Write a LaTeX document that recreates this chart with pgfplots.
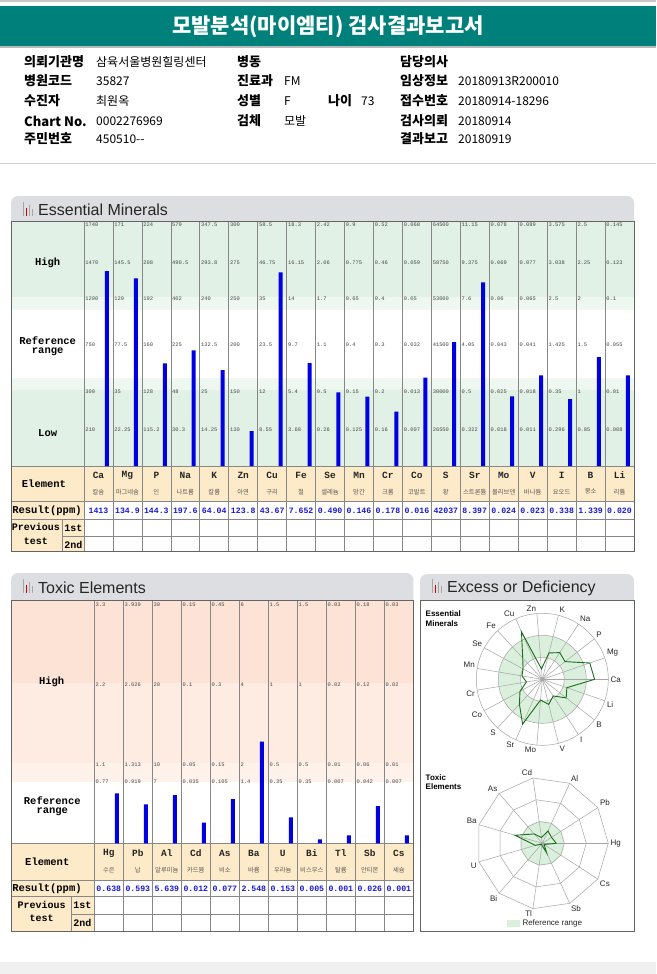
\documentclass[border=0pt]{standalone}
\usepackage{fontspec}
\usepackage{pgfplots}
\usepackage{pgfplotstable}
\pgfplotsset{compat=1.18}
\setmainfont{Liberation Sans}
\newfontfamily\kr{Noto Sans CJK KR}
\newfontfamily\mono{Liberation Mono}
\definecolor{teal1}{RGB}{0,128,122}
\definecolor{tabgray}{RGB}{221,222,225}
\definecolor{grn1}{RGB}{226,241,229}
\definecolor{grn2}{RGB}{238,247,240}
\definecolor{pch1}{RGB}{253,227,214}
\definecolor{pch2}{RGB}{254,235,225}
\definecolor{pch3}{RGB}{254,242,235}
\definecolor{cream}{RGB}{253,234,200}
\definecolor{barblue}{RGB}{0,0,225}
\definecolor{resblue}{RGB}{25,25,215}
\definecolor{lgray}{RGB}{135,135,135}
\definecolor{fgray}{RGB}{100,100,100}
\definecolor{radfill}{RGB}{218,240,220}
\definecolor{radline}{RGB}{25,110,25}
\definecolor{scl}{RGB}{70,70,70}
\definecolor{ringgray}{RGB}{165,165,165}
\newcommand\hl{\kr\bfseries\fontsize{13}{15}\selectfont}
\newcommand\hv{\kr\fontsize{12}{14}\selectfont}
\newcommand\lab{\mono\bfseries\fontsize{10.5}{12}\selectfont}
\newcommand\sclf{\mono\fontsize{5.4}{6}\selectfont}
\newcommand\tabf{\fontsize{16}{18}\selectfont}

\pgfplotstableread{
x h
0.79 195
1.79 187.7
2.79 102.7
3.79 115.7
4.79 96
5.79 35
6.79 193.7
7.79 103
8.79 73.7
9.79 69.3
10.79 54.3
11.79 88.3
12.79 124
13.79 183.7
14.79 69.7
15.79 90.7
16.79 67
17.79 109
18.79 90.7
}\essbars

\pgfplotstableread{
x h
0.78 50
1.78 39
2.78 48.3
3.78 20.6
4.78 44.3
5.78 101.6
6.78 26
7.78 4
8.78 8
9.78 37.3
10.78 8
}\toxbars

\begin{document}
\begin{tikzpicture}[x=1pt,y=-1pt]
\fill[white] (0,0) rectangle (656,974);
% ---------- header
\fill[gray!45] (0,0) rectangle (656,2);
\fill[teal1] (0,6) rectangle (656,46);
\fill[gray!55] (0,46) rectangle (656,48);
\node[text=white, font=\kr\bfseries\fontsize{21}{24}\selectfont] at (328,26.5) {모발분석(마이엠티) 검사결과보고서};
\begin{scope}[every node/.style={anchor=west, inner sep=0pt}]
\node[font=\hl] at (24,62) {의뢰기관명};
\node[font=\hv] at (96,62) {삼육서울병원힐링센터};
\node[font=\hl] at (237,62) {병동};
\node[font=\hl] at (400,62) {담당의사};
\node[font=\hl] at (24,81) {병원코드};
\node[font=\hv] at (96,81) {35827};
\node[font=\hl] at (237,81) {진료과};
\node[font=\hv] at (284,81) {FM};
\node[font=\hl] at (400,81) {임상정보};
\node[font=\hv] at (458,81) {20180913R200010};
\node[font=\hl] at (24,101) {수진자};
\node[font=\hv] at (96,101) {최원옥};
\node[font=\hl] at (237,101) {성별};
\node[font=\hv] at (284,101) {F};
\node[font=\hl] at (328,101) {나이};
\node[font=\hv] at (361,101) {73};
\node[font=\hl] at (400,101) {접수번호};
\node[font=\hv] at (458,101) {20180914-18296};
\node[font=\hl] at (24,121) {Chart No.};
\node[font=\hv] at (96,121) {0002276969};
\node[font=\hl] at (237,121) {검체};
\node[font=\hv] at (284,121) {모발};
\node[font=\hl] at (400,121) {검사의뢰};
\node[font=\hv] at (458,121) {20180914};
\node[font=\hl] at (24,139) {주민번호};
\node[font=\hv] at (96,139) {450510--};
\node[font=\hl] at (400,139) {결과보고};
\node[font=\hv] at (458,139) {20180919};
\end{scope}
\draw[gray!35, line width=1pt] (0,163) -- (656,163);
\fill[gray!12] (0,962) rectangle (656,974);

% ---------- Essential Minerals section
\fill[tabgray, rounded corners=7pt] (11,196) rectangle (634,232);
\fill[gray!70] (22.5,202) rectangle (24,216);
\fill[red!80!black] (25.5,208) rectangle (27,216);
\fill[gray!70] (28.5,205) rectangle (30,216);
\fill[gray!70] (31.5,209) rectangle (33,216);
\node[anchor=west, inner sep=0pt, font=\tabf, text=black!85] at (38,210) {Essential Minerals};
\fill[grn1] (11.5,221) rectangle (634,297.3);
\fill[grn2] (11.5,297.3) rectangle (634,310);
\fill[white] (11.5,310) rectangle (634,378.3);
\fill[grn2] (11.5,378.3) rectangle (634,390);
\fill[grn1] (11.5,390) rectangle (634,466);
\fill[cream] (11.5,466) rectangle (634,501);
\fill[cream] (11.5,501) rectangle (84,551.7);
\foreach \i in {1,...,18} {
  \pgfmathsetmacro\lx{84+\i*28.947}
  \draw[lgray, line width=0.6pt] (\lx,221) -- (\lx,551.7);
}
\draw[lgray, line width=0.6pt] (84,221) -- (84,551.7);
\draw[lgray, line width=0.6pt] (11.5,466) -- (634,466);
\draw[lgray, line width=0.6pt] (11.5,501) -- (634,501);
\draw[lgray, line width=0.6pt] (11.5,519.3) -- (634,519.3);
\draw[lgray, line width=0.6pt] (62.7,536) -- (634,536);
\draw[lgray, line width=0.6pt] (62.7,519.3) -- (62.7,551.7);
\draw[fgray, line width=0.8pt] (11.5,221) rectangle (634,551.7);
\begin{scope}[every node/.style={inner sep=0pt}]
\node[font=\lab] at (47.7,263) {High};
\node[font=\lab] at (47.7,340.3) {Reference};
\node[font=\lab] at (47.7,351.8) {range};
\node[font=\lab] at (47.7,432.7) {Low};
\node[font=\lab] at (44,484) {Element};
\node[font=\lab] at (47,510.3) {Result(ppm)};
\node[font=\mono\bfseries\fontsize{10}{12}\selectfont] at (36,527) {Previous};
\node[font=\mono\bfseries\fontsize{10}{12}\selectfont] at (36,541) {test};
\node[font=\mono\bfseries\fontsize{10}{12}\selectfont] at (73.3,528) {1st};
\node[font=\mono\bfseries\fontsize{10}{12}\selectfont] at (73.3,544.5) {2nd};
\end{scope}
\foreach \a/\b/\c/\d/\e/\f [count=\i from 0] in {1740/1470/1200/750/300/210, 171/145.5/120/77.5/35/22.25, 224/208/192/160/128/115.2, 579/490.5/402/225/48/30.3, 347.5/293.8/240/132.5/25/14.25, 300/275/250/200/150/130, 58.5/46.75/35/23.5/12/8.55, 18.3/16.15/14/9.7/5.4/3.68, 2.42/2.06/1.7/1.1/0.5/0.26, 0.9/0.775/0.65/0.4/0.15/0.125, 0.52/0.46/0.4/0.3/0.2/0.16, 0.068/0.059/0.05/0.032/0.013/0.007, 64500/58750/53000/41500/30000/26550, 11.15/9.375/7.6/4.05/0.5/0.322, 0.078/0.069/0.06/0.043/0.025/0.018, 0.089/0.077/0.065/0.041/0.018/0.011, 3.575/3.038/2.5/1.425/0.35/0.296, 2.5/2.25/2/1.5/1/0.85, 0.145/0.123/0.1/0.055/0.01/0.008} {
  \pgfmathsetmacro\lx{84+\i*28.947+1.2}
  \begin{scope}[every node/.style={anchor=west, inner sep=0pt, font=\sclf, text=scl}]
  \node at (\lx,225) {\a};
  \node at (\lx,263) {\b};
  \node at (\lx,299) {\c};
  \node at (\lx,345) {\d};
  \node at (\lx,392) {\e};
  \node at (\lx,430) {\f};
  \end{scope}
}
\foreach \s/\k/\v [count=\i from 0] in {Ca/칼슘/1413, Mg/마그네슘/134.9, P/인/144.3, Na/나트륨/197.6, K/칼륨/64.04, Zn/아연/123.8, Cu/구리/43.67, Fe/철/7.652, Se/셀레늄/0.490, Mn/망간/0.146, Cr/크롬/0.178, Co/코발트/0.016, S/황/42037, Sr/스트론튬/8.397, Mo/몰리브덴/0.024, V/바나듐/0.023, I/요오드/0.338, B/붕소/1.339, Li/리튬/0.020} {
  \pgfmathsetmacro\cx{84+(\i+0.5)*28.947}
  \node[font=\mono\bfseries\fontsize{9.5}{11}\selectfont, text=black!85] at (\cx,475.5) {\s};
  \node[font=\kr\fontsize{6.3}{7}\selectfont, text=black!65] at (\cx,491.7) {\k};
  \node[font=\mono\bfseries\fontsize{8.2}{9}\selectfont, text=resblue] at (\cx,510.3) {\v};
}
\begin{axis}[at={(84pt,-466pt)}, anchor=south west, scale only axis,
  width=550pt, height=245pt, xmin=0, xmax=19, ymin=0, ymax=245,
  hide axis, clip=false]
\addplot[ybar, bar width=4pt, bar shift=0pt, fill=barblue, draw=none] table[x=x,y=h] {\essbars};
\end{axis}

% ---------- Toxic Elements section
\fill[tabgray, rounded corners=7pt] (11,573) rectangle (413.3,610);
\fill[gray!70] (22.5,579) rectangle (24,593);
\fill[red!80!black] (25.5,585) rectangle (27,593);
\fill[gray!70] (28.5,582) rectangle (30,593);
\fill[gray!70] (31.5,586) rectangle (33,593);
\node[anchor=west, inner sep=0pt, font=\tabf, text=black!85] at (38,588) {Toxic Elements};
\fill[pch1] (11.5,600) rectangle (413.3,683.3);
\fill[pch2] (11.5,683.3) rectangle (413.3,763.3);
\fill[pch3] (11.5,763.3) rectangle (413.3,781.7);
\fill[white] (11.5,781.7) rectangle (413.3,843.3);
\fill[cream] (11.5,843.3) rectangle (413.3,880);
\fill[cream] (11.5,880) rectangle (94.3,931.7);
\foreach \i in {1,...,10} {
  \pgfmathsetmacro\lx{94.3+\i*29}
  \draw[lgray, line width=0.6pt] (\lx,600) -- (\lx,931.7);
}
\draw[lgray, line width=0.6pt] (94.3,600) -- (94.3,931.7);
\draw[lgray, line width=0.6pt] (11.5,843.3) -- (413.3,843.3);
\draw[lgray, line width=0.6pt] (11.5,880) -- (413.3,880);
\draw[lgray, line width=0.6pt] (11.5,896.7) -- (413.3,896.7);
\draw[lgray, line width=0.6pt] (71.7,914) -- (413.3,914);
\draw[lgray, line width=0.6pt] (71.7,896.7) -- (71.7,931.7);
\draw[fgray, line width=0.8pt] (11.5,600) rectangle (413.3,931.7);
\begin{scope}[every node/.style={inner sep=0pt}]
\node[font=\lab] at (51.7,682.3) {High};
\node[font=\lab] at (52.3,800.5) {Reference};
\node[font=\lab] at (52.3,812) {range};
\node[font=\lab] at (47.3,861.7) {Element};
\node[font=\lab] at (47,888.3) {Result(ppm)};
\node[font=\mono\bfseries\fontsize{10}{12}\selectfont] at (41.7,905) {Previous};
\node[font=\mono\bfseries\fontsize{10}{12}\selectfont] at (41.7,918.5) {test};
\node[font=\mono\bfseries\fontsize{10}{12}\selectfont] at (82.5,905.5) {1st};
\node[font=\mono\bfseries\fontsize{10}{12}\selectfont] at (82.5,923) {2nd};
\end{scope}
\foreach \a/\b/\c/\d [count=\i from 0] in {3.3/2.2/1.1/0.77, 3.939/2.626/1.313/0.919, 30/20/10/7, 0.15/0.1/0.05/0.035, 0.45/0.3/0.15/0.105, 6/4/2/1.4, 1.5/1/0.5/0.35, 1.5/1/0.5/0.35, 0.03/0.02/0.01/0.007, 0.18/0.12/0.06/0.042, 0.03/0.02/0.01/0.007} {
  \pgfmathsetmacro\lx{94.3+\i*29+1.2}
  \begin{scope}[every node/.style={anchor=west, inner sep=0pt, font=\sclf, text=scl}]
  \node at (\lx,605) {\a};
  \node at (\lx,685) {\b};
  \node at (\lx,765) {\c};
  \node at (\lx,781.7) {\d};
  \end{scope}
}
\foreach \s/\k/\v [count=\i from 0] in {Hg/수은/0.638, Pb/납/0.593, Al/알루미늄/5.639, Cd/카드뮴/0.012, As/비소/0.077, Ba/바륨/2.548, U/우라늄/0.153, Bi/비스무스/0.005, Tl/탈륨/0.001, Sb/안티몬/0.026, Cs/세슘/0.001} {
  \pgfmathsetmacro\cx{94.3+(\i+0.5)*29}
  \node[font=\mono\bfseries\fontsize{9.5}{11}\selectfont, text=black!85] at (\cx,853.3) {\s};
  \node[font=\kr\fontsize{6.3}{7}\selectfont, text=black!65] at (\cx,870) {\k};
  \node[font=\mono\bfseries\fontsize{8.2}{9}\selectfont, text=resblue] at (\cx,888.3) {\v};
}
\begin{axis}[at={(94.3pt,-843.3pt)}, anchor=south west, scale only axis,
  width=319pt, height=241.6pt, xmin=0, xmax=11, ymin=0, ymax=241.6,
  hide axis, clip=false]
\addplot[ybar, bar width=4pt, bar shift=0pt, fill=barblue, draw=none] table[x=x,y=h] {\toxbars};
\end{axis}

% ---------- Excess or Deficiency panel
\fill[tabgray, rounded corners=7pt] (420,574) rectangle (634,610);
\fill[gray!70] (431.5,579) rectangle (433,593);
\fill[red!80!black] (434.5,585) rectangle (436,593);
\fill[gray!70] (437.5,582) rectangle (439,593);
\fill[gray!70] (440.5,586) rectangle (442,593);
\node[anchor=west, inner sep=0pt, font=\tabf, text=black!85] at (447,588) {Excess or Deficiency};
\fill[white] (420,600) rectangle (634,931.7);
\draw[fgray, line width=0.8pt] (420,600) rectangle (634,931.7);
\node[anchor=west, inner sep=0pt, font=\bfseries\fontsize{8}{9}\selectfont] at (425.5,614) {Essential};
\node[anchor=west, inner sep=0pt, font=\bfseries\fontsize{8}{9}\selectfont] at (425.5,623.5) {Minerals};
\node[anchor=west, inner sep=0pt, font=\bfseries\fontsize{8}{9}\selectfont] at (425.5,777.5) {Toxic};
\node[anchor=west, inner sep=0pt, font=\bfseries\fontsize{8}{9}\selectfont] at (425.5,787) {Elements};
% essential radar grid
\begin{scope}[shift={(542.3pt,-679.3pt)}]
  \fill[radfill, even odd rule] (0,0) circle (44pt) (0,0) circle (22pt);
  \foreach \r in {22,44,66} \draw[ringgray, line width=0.5pt] (0,0) circle (\r pt);
  \foreach \k in {0,...,18} \draw[ringgray, line width=0.5pt] (0,0) -- (\k*18.947:66pt);
  \fill[gray!70] (0,0) circle (2pt);
  \foreach \l [count=\k from 0, evaluate=\k as \ang using \k*18.947] in {Ca,Mg,P,Na,K,Zn,Cu,Fe,Se,Mn,Cr,Co,S,Sr,Mo,V,I,B,Li}
    \node[inner sep=0pt, minimum size=0pt, label={[label distance=1.5pt, inner sep=0.5pt, font=\fontsize{8}{9}\selectfont, text=black!85]\ang:\l}] at (\ang:66pt) {};
\end{scope}
\begin{axis}[at={(542.3pt,-679.3pt)}, anchor=center, scale only axis,
  width=132pt, height=132pt, xmin=-66, xmax=66, ymin=-66, ymax=66,
  hide axis, clip=false]
\addplot[radline, line width=0.9pt, data cs=polar] coordinates {
(0,52.3) (18.947,50.2) (37.895,28.8) (56.842,31.9) (75.789,27.2) (94.737,10.4)
(113.684,51.9) (132.632,28.9) (151.579,21.9) (170.526,20.6) (189.474,16.1)
(208.421,25.4) (227.368,33.8) (246.316,49.0) (265.263,20.7) (284.211,25.95)
(303.158,19.9) (322.105,30.3) (341.053,25.95) (360,52.3)};
\end{axis}
% toxic radar grid
\begin{scope}[shift={(542.3pt,-843.3pt)}]
  \fill[radfill] (0,0) circle (22pt);
  \foreach \r in {22,44,66}
    \draw[ringgray, line width=0.5pt] (0:\r pt) \foreach \k in {1,...,10} { -- (\k*32.727:\r pt) } -- cycle;
  \foreach \k in {0,...,10} \draw[ringgray, line width=0.5pt] (0,0) -- (\k*32.727:66pt);
  \foreach \l [count=\k from 0, evaluate=\k as \ang using \k*32.727] in {Hg,Pb,Al,Cd,As,Ba,U,Bi,Tl,Sb,Cs}
    \node[inner sep=0pt, minimum size=0pt, label={[label distance=1.5pt, inner sep=0.5pt, font=\fontsize{8}{9}\selectfont, text=black!85]\ang:\l}] at (\ang:66pt) {};
\end{scope}
\begin{axis}[at={(542.3pt,-843.3pt)}, anchor=center, scale only axis,
  width=132pt, height=132pt, xmin=-66, xmax=66, ymin=-66, ymax=66,
  hide axis, clip=false]
\addplot[radline, line width=0.9pt, data cs=polar] coordinates {
(0,14.0) (32.727,11.0) (65.455,13.6) (98.182,5.8) (130.909,12.4) (163.636,28.4)
(196.364,7.3) (229.091,1.1) (261.818,2.2) (294.545,10.5) (327.273,2.2) (360,14.0)};
\end{axis}
\fill[radfill] (506.7,920) rectangle (520,926.5);
\node[anchor=west, inner sep=0pt, font=\fontsize{8}{9}\selectfont, text=black!85] at (522.3,923.3) {Reference range};

\pgfresetboundingbox
\path[use as bounding box] (0,0) rectangle (656,974);
\end{tikzpicture}
\end{document}
